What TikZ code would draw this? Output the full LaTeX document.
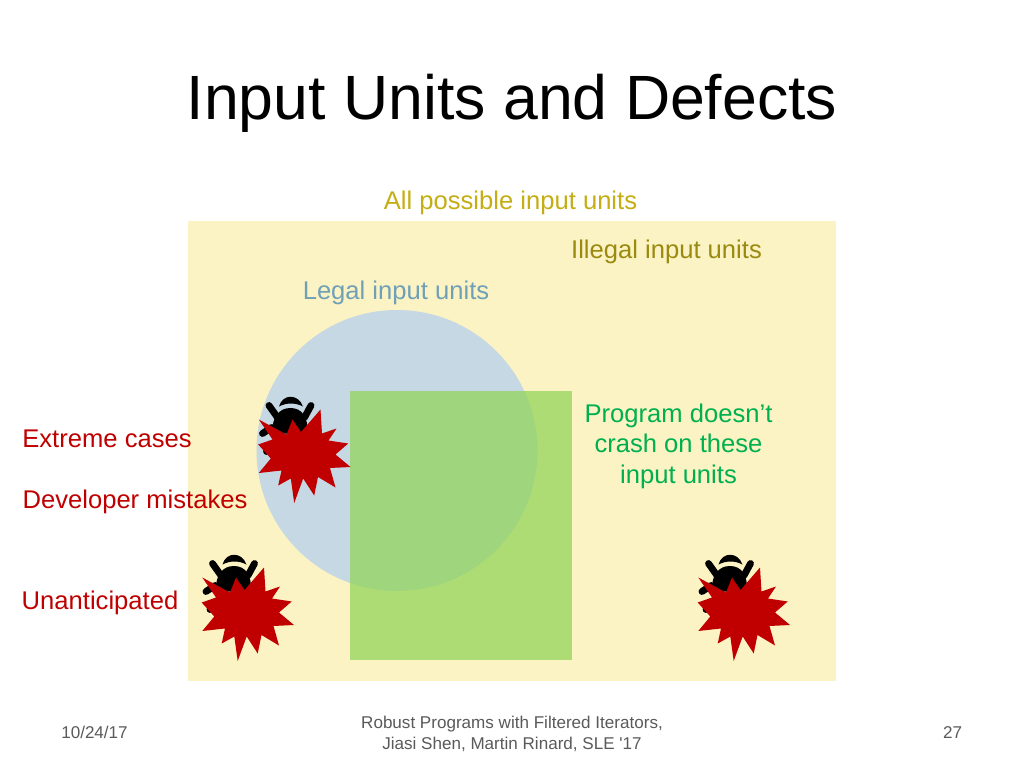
\documentclass[tikz,border=0pt]{standalone}
\usepackage{fontspec}
\setmainfont{Liberation Sans}
\newfontfamily\plainsans{Liberation Sans}
\definecolor{bgyellow}{HTML}{FBF3C3}
\definecolor{circblue}{HTML}{C5D8E3}
\definecolor{sqgreen}{HTML}{93D459}
\definecolor{starred}{HTML}{C00000}
\definecolor{ttlyellow}{HTML}{C4AE14}
\definecolor{illegal}{HTML}{9A8A10}
\definecolor{legal}{HTML}{6FA0B8}
\definecolor{prog}{HTML}{00B050}
\definecolor{foot}{HTML}{5A5A5A}
\tikzset{
  lbl/.style={font=\fontsize{18}{22}\selectfont, anchor=base, inner sep=0pt},
  foottext/.style={font=\plainsans\fontsize{12}{15}\selectfont, text=foot, anchor=base, inner sep=0pt},
  starshape/.style={fill=starred, draw=none},
  bugpart/.style={draw=black, line width=4.8pt, line cap=round}
}
\newcommand{\bugstar}[2]{%
\begin{scope}[shift={(#1,#2)}]
 % bug (origin: star's left tip)
 \fill[black] (13,14) .. controls (12,-3) and (20,-11.5) .. (31,-11.5) .. controls (42,-11.5) and (49,-3) .. (48,14) -- cycle;
 \fill[black] (19.5,-13) .. controls (23,-26) and (39,-26) .. (43.5,-13) .. controls (36,-17) and (27,-17) .. (19.5,-13) -- cycle;
 \draw[bugpart] (9.5,-14) -- (18,-2);
 \draw[bugpart] (51.5,-14) -- (45,-2);
 \draw[bugpart] (3,14) -- (12,8);
 \draw[bugpart] (7,32) -- (15,26);
 % star
 \fill[starshape] (-0.7,0) -- (27,15) -- (33,0) -- (41.5,12.5) -- (61,-10) -- (62.5,14) -- (77,9) -- (69,21) -- (88.7,24) -- (76,35) -- (91,47.5) -- (70.5,48.5) -- (76,68) -- (58.5,57.5) -- (54.7,76) -- (43.7,59) -- (34.7,83.5) -- (31.3,59) -- (18.7,66) -- (22,51) -- (-0.7,53.5) -- (11.3,39) -- (-1.3,25) -- (13,20) -- cycle;
\end{scope}}
\begin{document}
\begin{tikzpicture}[x=0.703125pt,y=-0.703125pt]
\useasboundingbox (0,0) rectangle (1024,768);
\fill[white] (0,0) rectangle (1024,768);
\node[font=\fontsize{44}{50}\selectfont, anchor=base, inner sep=0pt] (title) at (512,120) {Input Units and Defects};
\fill[bgyellow] (188,221) rectangle (836,681);
\fill[circblue] (397,450.5) circle (140.5);
\fill[sqgreen, fill opacity=.74] (350,391) rectangle (572,660);
\node[lbl, text=ttlyellow] (all) at (510.5,209.5) {All possible input units};
\node[lbl, text=illegal] (illeg) at (666.5,258.5) {Illegal input units};
\node[lbl, text=legal] (leg) at (396,299) {Legal input units};
\node[lbl, text=prog] (p1) at (678.5,422) {Program doesn’t};
\node[lbl, text=prog] (p2) at (678.5,452.5) {crash on these};
\node[lbl, text=prog] (p3) at (678.5,483.5) {input units};
\bugstar{259.5}{419.5}
\bugstar{203}{577.5}
\bugstar{699}{577.5}
\node[lbl, text=starred] (ext) at (107,447) {Extreme cases};
\node[lbl, text=starred] (dev) at (135,508.5) {Developer mistakes};
\node[lbl, text=starred] (un) at (100,609.5) {Unanticipated};
\node[foottext] (date) at (94.5,738) {10/24/17};
\node[foottext] (f1) at (512,728) {Robust Programs with Filtered Iterators,};
\node[foottext] (f2) at (512,749) {Jiasi Shen, Martin Rinard, SLE '17};
\node[foottext] (num) at (952.5,738) {27};
\end{tikzpicture}
\end{document}
